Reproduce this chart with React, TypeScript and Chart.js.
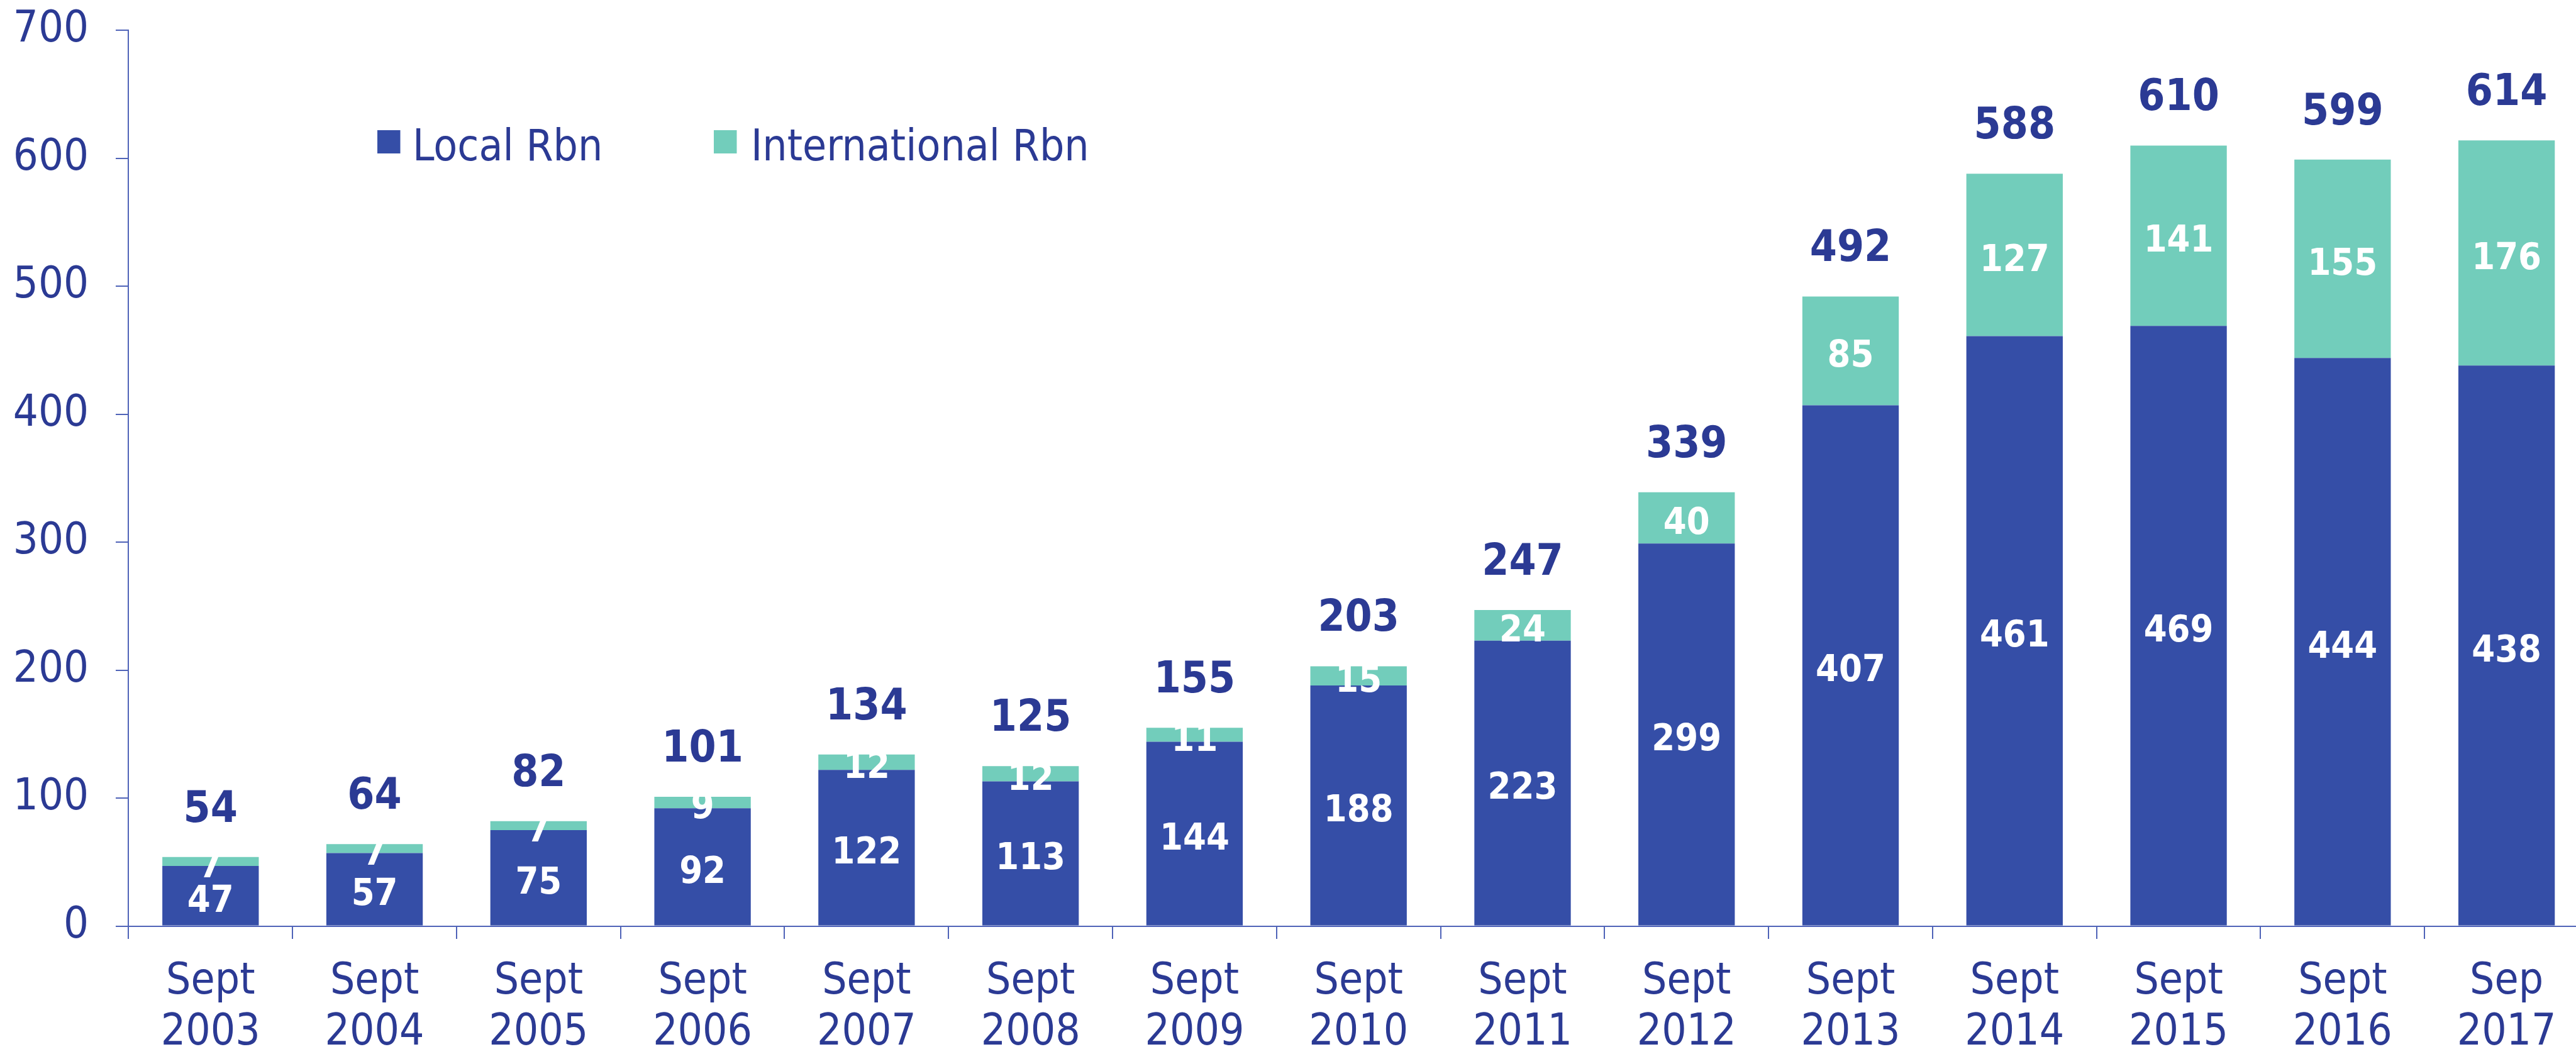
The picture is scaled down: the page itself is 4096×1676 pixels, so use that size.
import React, { useEffect, useRef } from "react";
import { Chart, registerables } from "chart.js";

Chart.register(...registerables);

const CATEGORIES: string[][] = [
  ["Sept", "2003"], ["Sept", "2004"], ["Sept", "2005"], ["Sept", "2006"], ["Sept", "2007"],
  ["Sept", "2008"], ["Sept", "2009"], ["Sept", "2010"], ["Sept", "2011"], ["Sept", "2012"],
  ["Sept", "2013"], ["Sept", "2014"], ["Sept", "2015"], ["Sept", "2016"], ["Sep", "2017"],
];
const LOCAL_RBN = [47, 57, 75, 92, 122, 113, 144, 188, 223, 299, 407, 461, 469, 444, 438];
const INTERNATIONAL_RBN = [7, 7, 7, 9, 12, 12, 11, 15, 24, 40, 85, 127, 141, 155, 176];
const TOTALS = [54, 64, 82, 101, 134, 125, 155, 203, 247, 339, 492, 588, 610, 599, 614];
const SERIES_NAMES = ["Local Rbn", "International Rbn"];
const Y_MIN = 0;
const Y_MAX = 700;
const Y_STEP = 100;

const FONT = "'DejaVu Sans Condensed', 'Liberation Sans', sans-serif";
const NAVY = "#2b3a94";
const BLUE = "#354ea7";
const TEAL = "#72cdbb";
const AXIS = "#4f63b8";

const CANVAS_W = 4116;
const CANVAS_H = 1676;
const PLOT_TOP = 48.3;
const PLOT_BOTTOM = 1472.5;
const PLOT_LEFT = 204.4;

const labelsPlugin = {
  id: "barLabels",
  afterDatasetsDraw(chart: any) {
    const ctx = chart.ctx;
    ctx.save();
    ctx.textAlign = "center";
    ctx.textBaseline = "middle";
    ctx.fillStyle = "#ffffff";
    ctx.font = `bold 59px ${FONT}`;
    chart.data.datasets.forEach((ds: any, i: number) => {
      const meta = chart.getDatasetMeta(i);
      meta.data.forEach((el: any, j: number) => {
        const cy = (el.y + el.base) / 2;
        ctx.fillText(String(ds.data[j]), el.x, cy + 10);
      });
    });
    const topMeta = chart.getDatasetMeta(chart.data.datasets.length - 1);
    ctx.fillStyle = NAVY;
    ctx.font = `bold 69px ${FONT}`;
    ctx.textBaseline = "alphabetic";
    topMeta.data.forEach((el: any, j: number) => {
      ctx.fillText(String(TOTALS[j]), el.x, el.y - 56);
    });
    ctx.restore();
  },
};

const legendPlugin = {
  id: "customLegend",
  afterDraw(chart: any) {
    const ctx = chart.ctx;
    ctx.save();
    const items = [
      { sq: 600, tx: 656 },
      { sq: 1135, tx: 1194 },
    ];
    ctx.font = `69px ${FONT}`;
    ctx.textBaseline = "alphabetic";
    ctx.textAlign = "left";
    chart.data.datasets.forEach((ds: any, i: number) => {
      const it = items[i];
      ctx.fillStyle = ds.backgroundColor;
      ctx.fillRect(it.sq, 207, 36.5, 37);
      ctx.fillStyle = NAVY;
      ctx.fillText(ds.label, it.tx, 254.5);
    });
    ctx.restore();
  },
};

export default function App() {
  const ref = useRef<HTMLCanvasElement | null>(null);
  useEffect(() => {
    if (!ref.current) return;
    const chart = new Chart(ref.current, {
      type: "bar",
      data: {
        labels: CATEGORIES,
        datasets: [
          {
            label: SERIES_NAMES[0],
            data: LOCAL_RBN,
            backgroundColor: BLUE,
            borderWidth: 0,
            stack: "s",
            barPercentage: 0.588,
            categoryPercentage: 1.0,
          },
          {
            label: SERIES_NAMES[1],
            data: INTERNATIONAL_RBN,
            backgroundColor: TEAL,
            borderWidth: 0,
            stack: "s",
            barPercentage: 0.588,
            categoryPercentage: 1.0,
          },
        ],
      },
      options: {
        responsive: false,
        animation: false,
        devicePixelRatio: 1,
        layout: { padding: { top: PLOT_TOP, left: 0, right: 0, bottom: 0 } },
        plugins: {
          legend: { display: false },
          tooltip: { enabled: false },
        },
        scales: {
          x: {
            stacked: true,
            afterFit: (s: any) => {
              s.height = CANVAS_H - PLOT_BOTTOM;
              s.paddingLeft = 0;
              s.paddingRight = 0;
            },
            grid: {
              offset: true,
              drawOnChartArea: false,
              drawTicks: true,
              tickLength: 20.4,
              color: AXIS,
              lineWidth: 2,
            },
            border: { display: true, color: AXIS, width: 2 },
            ticks: {
              color: NAVY,
              padding: 28.7,
              maxRotation: 0,
              autoSkip: false,
              font: { family: FONT, size: 69, lineHeight: 1.171 },
            },
          },
          y: {
            stacked: true,
            min: Y_MIN,
            max: Y_MAX,
            afterFit: (s: any) => {
              s.width = PLOT_LEFT;
              s.paddingTop = 0;
              s.paddingBottom = 0;
            },
            grid: {
              drawOnChartArea: false,
              drawTicks: true,
              tickLength: 20.4,
              color: AXIS,
              lineWidth: 2,
            },
            border: { display: true, color: AXIS, width: 2 },
            ticks: {
              stepSize: Y_STEP,
              color: NAVY,
              padding: 43,
              font: { family: FONT, size: 70 },
            },
          },
        },
      },
      plugins: [labelsPlugin, legendPlugin],
    });
    return () => chart.destroy();
  }, []);

  return (
    <div
      style={{
        position: "fixed",
        left: 0,
        top: 0,
        width: "4096px",
        height: "1676px",
        overflow: "hidden",
        background: "#ffffff",
      }}
    >
      <canvas
        ref={ref}
        width={CANVAS_W}
        height={CANVAS_H}
        style={{ width: `${CANVAS_W}px`, height: `${CANVAS_H}px`, display: "block" }}
      />
    </div>
  );
}
